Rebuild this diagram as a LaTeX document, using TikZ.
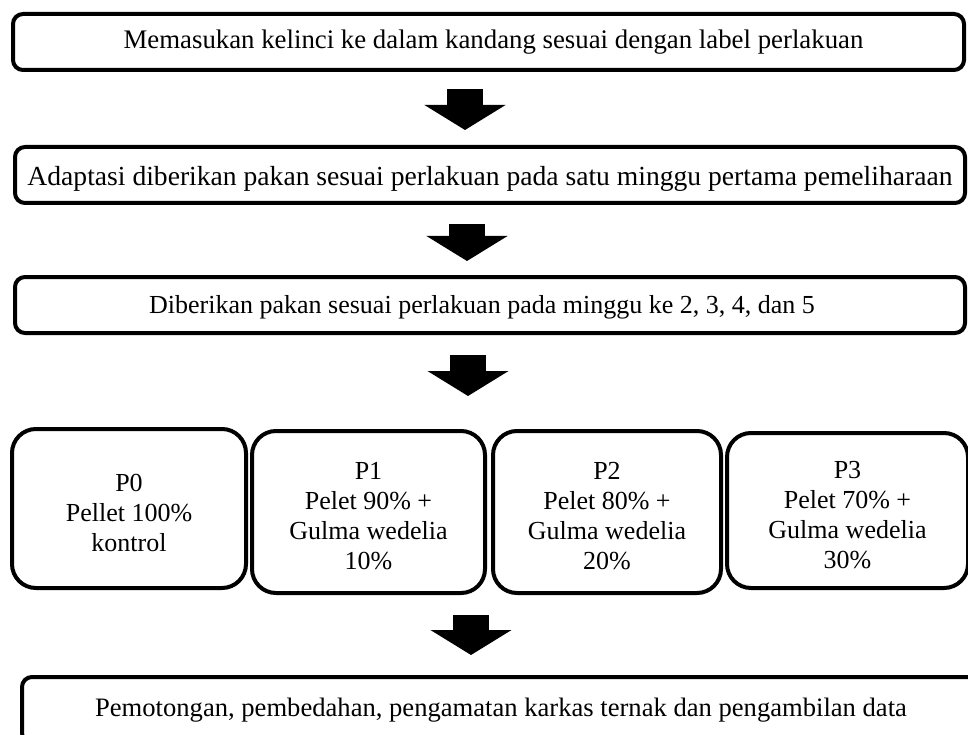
\documentclass[tikz,border=0pt]{standalone}
\usepackage{fontspec}
\setmainfont{Liberation Serif}
\usetikzlibrary{arrows.meta}
\newcommand{\mystrut}[1]{\rule{0pt}{#1}}
\begin{document}
\begin{tikzpicture}[x=1pt,y=-1pt,
  wide/.style={draw, line width=4pt, rounded corners=10pt, inner sep=0pt,
    minimum height=56pt},
  pbox/.style={draw, line width=4pt, rounded corners=24pt, inner sep=0pt,
    align=center, font=\fontsize{26}{30}\selectfont},
  blockarrow/.style={line width=36pt, -{Triangle[width=80pt 0 0,length=25pt 0 0]}}]
\useasboundingbox (0,0) rectangle (968,735);

\node[wide, minimum width=951pt, font=\fontsize{26.8}{30}\selectfont] (s1) at (488.5,42)
  {\hspace*{10pt}Memasukan kelinci ke dalam kandang sesuai dengan label perlakuan};
\node[wide, minimum width=950pt, font=\fontsize{27.6}{30}\selectfont] (s2) at (490,175)
  {\mystrut{27pt}Adaptasi diberikan pakan sesuai perlakuan pada satu minggu pertama pemeliharaan};
\node[wide, minimum width=950pt, font=\fontsize{26}{30}\selectfont] (s3) at (490,305)
  {\mystrut{23pt}Diberikan pakan sesuai perlakuan pada minggu ke 2, 3, 4, dan 5\hspace*{16pt}};

\node[pbox, minimum width=234pt, minimum height=159pt] (p0) at (129,508.5)
  {\mystrut{26pt}P0\\Pellet 100\%\\kontrol};
\node[pbox, minimum width=233pt, minimum height=162pt] (p1) at (368.5,512)
  {\mystrut{26pt}P1\\Pelet 90\% +\\Gulma wedelia\\10\%};
\node[pbox, minimum width=228pt, minimum height=162pt] (p2) at (607,512)
  {\mystrut{26pt}P2\\Pelet 80\% +\\Gulma wedelia\\20\%};
\node[pbox, minimum width=241pt, minimum height=155pt] (p3) at (847.5,510.5)
  {\mystrut{26pt}P3\\Pelet 70\% +\\Gulma wedelia\\30\%};

\node[wide, minimum width=958pt, minimum height=66pt, font=\fontsize{26.6}{30}\selectfont] (s4) at (501,710)
  {Pemotongan, pembedahan, pengamatan karkas ternak dan pengambilan data};

\coordinate (c1) at (465,0);
\coordinate (c2) at (467,0);
\coordinate (c3) at (468,0);
\coordinate (c4) at (471,0);

\draw[blockarrow, shorten <=17pt, shorten >=15pt] (s1.south -| c1) -- (s2.north -| c1);
\draw[blockarrow, shorten <=19pt, shorten >=14pt] (s2.south -| c2) -- (s3.north -| c2);
\draw[blockarrow, shorten <=20pt, shorten >=33pt] (s3.south -| c3) -- (p1.north -| c3);
\draw[blockarrow, shorten <=20pt, shorten >=20pt] (p1.south -| c4) -- (s4.north -| c4);
\end{tikzpicture}
\end{document}
